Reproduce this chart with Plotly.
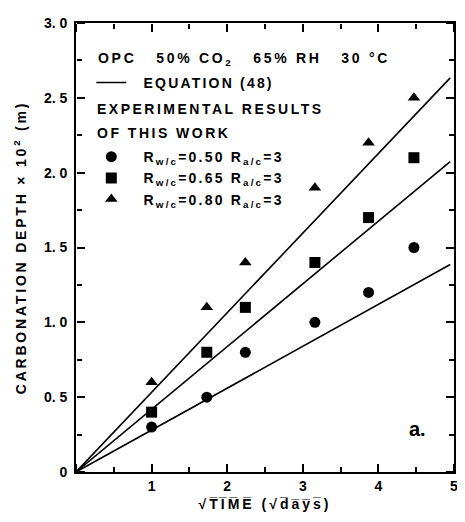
import plotly.graph_objects as go

# data
sqrt_time = [1.0, 1.73, 2.24, 3.16, 3.87, 4.47]
depth_050 = [0.3, 0.5, 0.8, 1.0, 1.2, 1.5]
depth_065 = [0.4, 0.8, 1.1, 1.4, 1.7, 2.1]
depth_080 = [0.6, 1.1, 1.4, 1.9, 2.2, 2.5]
slopes = [0.28, 0.419, 0.532]   # equation (48) model lines through origin
line_x = [0.0, 4.95]
y_label_alias = {"0": "0&nbsp;", "0.5": "0. 5&nbsp;", "1": "1. 0&nbsp;", "1.5": "1. 5&nbsp;",
                 "2": "2. 0&nbsp;", "2.5": "2. 5&nbsp;", "3": "3. 0&nbsp;"}
x_label_alias = {"0": " "}

FONT = "Liberation Sans"
LS = "letter-spacing:2.2px"

def sp(t, ls=LS):
    return f"<span style='{ls}'>{t}</span>"

def ov(t):
    return "".join(c + "\u0305" for c in t)

NB = "&nbsp;&nbsp;"
axis_pairs = [("x", "y"), ("x2", "y2"), ("x3", "y3")]

fig = go.Figure()
for i, s in enumerate(slopes):
    xa, ya = axis_pairs[i]
    fig.add_trace(go.Scatter(
        x=line_x, y=[s * v for v in line_x], mode="lines", xaxis=xa, yaxis=ya,
        line=dict(color="black", width=1.6),
        name=sp(NB + "EQUATION (48)"), legendgroup="eq", showlegend=(i == 0),
        legendrank=1))

series = [
    (depth_050, "circle", "0.50"),
    (depth_065, "square", "0.65"),
    (depth_080, "triangle-up", "0.80"),
]
for j, (ys, sym, r) in enumerate(series):
    fig.add_trace(go.Scatter(
        x=sqrt_time, y=ys, mode="markers",
        marker=dict(symbol=sym, size=11, color="black"),
        name=sp(NB + f"R<sub>w/c</sub>={r} R<sub>a/c</sub>=3"),
        legendgroup="exp", legendrank=2 + j))

tf = dict(family=FONT, size=14, color="black", weight="bold")

# tick-only helper axes (ticks point outward from a side placed on the opposite edge,
# so they point into the plot area)
def tick_axis(rng, dtick, mdtick, overlay, side, pos):
    return dict(range=rng, dtick=dtick, overlaying=overlay, side=side, anchor="free",
                position=pos, showticklabels=False, showline=False, showgrid=False,
                zeroline=False, ticks="outside", ticklen=8, tickwidth=2, tickcolor="black",
                minor=dict(dtick=mdtick, ticks="outside", ticklen=5, tickwidth=1.5,
                           tickcolor="black"))

fig.update_layout(
    xaxis=dict(
        range=[0, 5], dtick=1, labelalias=x_label_alias,
        showline=True, linecolor="black", linewidth=2, mirror=True,
        ticks="", showgrid=False, zeroline=False, tickfont=tf,
        title=dict(text=sp("√" + ov("TIME") + " (√" + ov("days") + ")", "letter-spacing:3px"),
                   font=tf, standoff=6)),
    yaxis=dict(
        range=[0, 3], dtick=0.5, labelalias=y_label_alias,
        showline=True, linecolor="black", linewidth=2, mirror=True,
        ticks="", showgrid=False, zeroline=False, tickfont=tf,
        title=dict(text=sp("CARBONATION DEPTH × 10<sup>2</sup> (m)", "letter-spacing:2.8px"),
                   font=tf, standoff=14)),
    xaxis2=tick_axis([0, 5], 1, 0.5, "x", "top", 0),
    xaxis3=tick_axis([0, 5], 1, 0.5, "x", "bottom", 1),
    yaxis2=tick_axis([0, 3], 0.5, 0.25, "y", "right", 0),
    yaxis3=tick_axis([0, 3], 0.5, 0.25, "y", "left", 1),
)

fig.update_layout(
    width=457, height=514,
    margin=dict(l=68, r=9, t=7, b=50),
    paper_bgcolor="white", plot_bgcolor="white",
    font=dict(family=FONT, size=14, color="black"),
    legend=dict(
        x=0.03 + 4 / 380, y=0.9 + 1 / 457, xanchor="left", yanchor="top",
        bgcolor="rgba(0,0,0,0)", borderwidth=0,
        traceorder="grouped", tracegroupgap=53,
        font=tf,
    ),
    annotations=[
        dict(text=sp("OPC&nbsp;&nbsp;&nbsp;50% CO<sub>2</sub>&nbsp;&nbsp;&nbsp;65% RH&nbsp;&nbsp;&nbsp;30 °C",
                     "letter-spacing:2.7px"),
             xref="paper", yref="paper", x=0.052, y=(472 - 52) / 457,
             xanchor="left", yanchor="middle", showarrow=False, font=tf),
        dict(text=sp("EXPERIMENTAL RESULTS", "letter-spacing:2.5px"),
             xref="paper", yref="paper", x=0.05, y=(472 - 103) / 457,
             xanchor="left", yanchor="middle", showarrow=False, font=tf),
        dict(text=sp("OF THIS WORK", "letter-spacing:2.5px"),
             xref="paper", yref="paper", x=0.05, y=(472 - 127) / 457,
             xanchor="left", yanchor="middle", showarrow=False, font=tf),
        dict(text="a.", xref="paper", yref="paper", x=0.93, y=0.096,
             xanchor="right", yanchor="middle",
             showarrow=False, font=dict(family=FONT, size=20, color="black", weight="bold")),
    ],
    showlegend=True,
)

fig.write_html("out.html")
